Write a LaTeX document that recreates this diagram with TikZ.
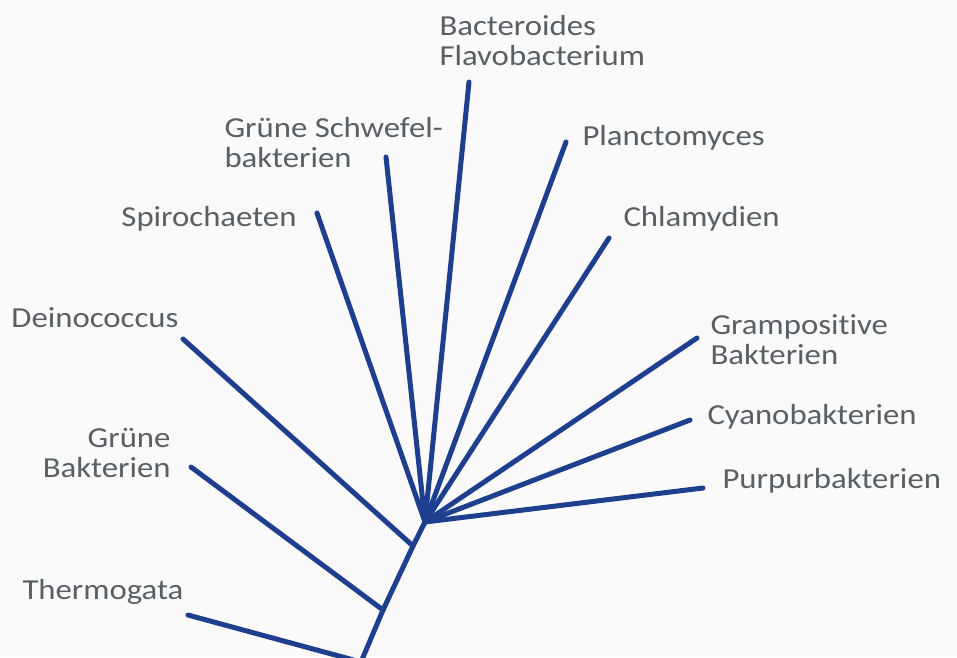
\documentclass[tikz,border=0pt]{standalone}
\usepackage{fontspec}
\setmainfont{Carlito}[FakeStretch=1.13, Ligatures=NoCommon]
\definecolor{branchblue}{HTML}{1E3F8E}
\definecolor{labelgray}{HTML}{5A5F64}
\begin{document}
\begin{tikzpicture}[x=1pt, y=-1pt, line width=5pt, line cap=round,
    taxon/.style={inner sep=0pt, text=labelgray, font=\fontsize{29}{30}\selectfont}]
    \fill[white!98!black] (0,0) rectangle (957,657);
    \useasboundingbox (0,0) rectangle (957,657);
    \clip (0,0) rectangle (957,657);

    % inner points of the tree
    \coordinate (Hub) at (425,522);
    \coordinate (DeinoFork) at (413,546);
    \coordinate (GrueneFork) at (383,610);
    \coordinate (Root) at (361,662);

    % ends of the branches
    \coordinate (BacteroidesEnd) at (469,82);
    \coordinate (SchwefelEnd) at (386,157);
    \coordinate (PlanctoEnd) at (566,142);
    \coordinate (SpiroEnd) at (317,213);
    \coordinate (ChlamyEnd) at (609,238);
    \coordinate (DeinoEnd) at (183,339);
    \coordinate (GramEnd) at (697,338);
    \coordinate (CyanoEnd) at (690,420);
    \coordinate (PurpurEnd) at (703,488);
    \coordinate (GrueneEnd) at (191,467);
    \coordinate (ThermoEnd) at (188,615);

    % labels
    \node (Bacteroides) [taxon, anchor=west, align=left] at (437,41) {Bacteroides\\Flavobacterium};
    \node (Schwefel) [taxon, anchor=west, align=left] at (222,143) {Grüne Schwefel-\\bakterien};
    \node (Plancto) [taxon, anchor=west] at (580,138) {Planctomyces};
    \node (Spiro) [taxon, anchor=east] at (299,219) {Spirochaeten};
    \node (Chlamy) [taxon, anchor=west] at (621,219) {Chlamydien};
    \node (Deino) [taxon, anchor=east] at (181,318) {Deinococcus};
    \node (Gram) [taxon, anchor=west, align=left] at (708,340) {Grampositive\\Bakterien};
    \node (Cyano) [taxon, anchor=west] at (705,417) {Cyanobakterien};
    \node (Purpur) [taxon, anchor=west] at (720,481) {Purpurbakterien};
    \node (Gruene) [taxon, anchor=east, align=right] at (173,453) {Grüne\\Bakterien};
    \node (Thermo) [taxon, anchor=west] at (20,592) {Thermogata};

    \begin{scope}[draw=branchblue]
    \draw (Root) -- (GrueneFork) -- (DeinoFork) -- (Hub);
    \draw (Root) -- (ThermoEnd);
    \draw (GrueneFork) -- (GrueneEnd);
    \draw (DeinoFork) -- (DeinoEnd);
    \draw (Hub) -- (SpiroEnd);
    \draw (Hub) -- (SchwefelEnd);
    \draw (Hub) -- (BacteroidesEnd);
    \draw (Hub) -- (PlanctoEnd);
    \draw (Hub) -- (ChlamyEnd);
    \draw (Hub) -- (GramEnd);
    \draw (Hub) -- (CyanoEnd);
    \draw (Hub) -- (PurpurEnd);
    \end{scope}
\end{tikzpicture}
\end{document}
